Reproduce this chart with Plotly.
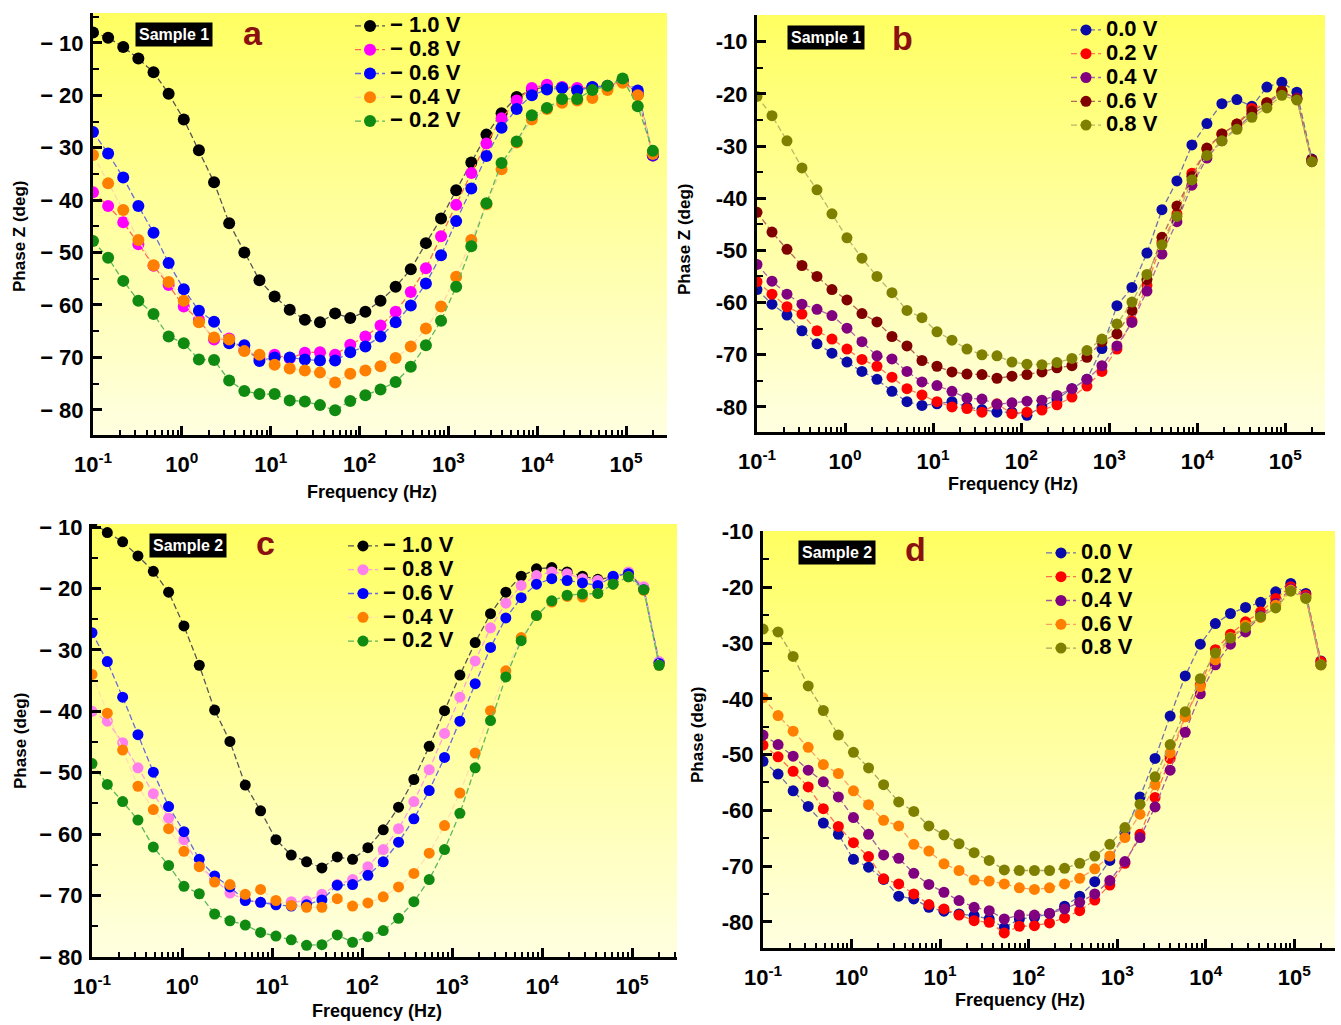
import plotly.graph_objects as go

FONT = "Liberation Sans, Arial, sans-serif"
W, H = 1341, 1025

# ---------------- data ----------------
freq = [0.1, 0.148, 0.219, 0.324, 0.480, 0.710, 1.051, 1.556, 2.303, 3.409, 5.047, 7.470,
        11.06, 16.37, 24.23, 35.86, 53.08, 78.57, 116.3, 172.1, 254.7, 377.1, 558.1, 826.1,
        1223, 1810, 2679, 3965, 5868, 8686, 12850, 19020, 28150, 41680, 61690, 91310,
        135100, 200000]

# panel a : Sample 1, negative potentials
a_m10 = [-8, -9, -10.8, -13, -15.6, -19.7, -24.6, -30.5, -36.6, -44.4, -50, -55.3, -58.4, -60.9,
         -62.8, -63.3, -61.6, -62.5, -61.3, -59.2, -56.5, -53.2, -48.2, -43.5, -38.1, -32.8,
         -27.5, -23.4, -20.3, -19, -18.3, -18.5, -18.8, -18.5, -18.3, -17.2, -19.8, -31.5]
a_m08 = [-38.5, -41.1, -44.2, -48.4, -52.5, -56.2, -60.3, -62.8, -66.6, -66.4, -68.7, -70.2,
         -69.5, -70.2, -69.1, -69, -69.5, -67.6, -66, -63.9, -61.3, -57.5, -53, -46.9, -40.9,
         -34.8, -29.2, -24.4, -21, -18.6, -18, -18.4, -18.6, -18.5, -18.3, -17.3, -19.6, -31.5]
a_m06 = [-27, -31.1, -35.7, -41.1, -46.2, -52, -57, -61.1, -63.2, -67.3, -67.7, -70.7, -70, -70,
         -70.4, -70.6, -70.6, -69, -67.9, -66, -63.3, -60.1, -55.9, -50.5, -44, -37.8, -31.6,
         -26.2, -22.6, -20, -18.9, -18.6, -19.1, -18.4, -18.2, -17.2, -19.1, -31.4]
a_m04 = [-31.4, -36.8, -41.9, -47.6, -52.4, -55.6, -59.2, -63.3, -66.2, -66.6, -68.8, -69.5,
         -71.4, -72.1, -72.5, -72.9, -74.8, -73.1, -72.5, -71.7, -70.1, -67.9, -64.5, -60.3,
         -54.6, -47.6, -40.8, -34.1, -29, -24.6, -22.6, -21.4, -21, -20.5, -19, -17.6, -20, -31.2]
a_m02 = [-47.8, -51, -55.4, -59.2, -61.7, -66, -67.3, -70.4, -70.5, -74.4, -76.4, -77, -77,
         -78.2, -78.4, -79.1, -80.1, -78.3, -77.2, -76.1, -74.7, -71.8, -67.7, -63, -56.5, -48.8,
         -40.6, -32.9, -28.8, -23.8, -22.4, -20.7, -20.7, -19, -18.2, -16.8, -22.1, -30.6]

# panel b : Sample 1, positive potentials
b_00 = [-57.5, -60.3, -62.4, -65.4, -67.9, -69.7, -71.4, -73.2, -74.7, -77, -79, -79.7, -79.4,
        -79, -80, -80.5, -81, -81, -81.6, -80, -78.5, -76.5, -74.7, -68.8, -60.6, -57.1, -50.5,
        -42.2, -36.7, -29.8, -25.7, -21.9, -21.1, -22.4, -18.7, -17.8, -19.7, -32.5]
b_02 = [-56, -58.4, -60.8, -62.2, -65.4, -67, -68.9, -70.9, -72.2, -74.3, -76.5, -77.7, -79,
        -80, -80.3, -81, -79.4, -81.3, -81, -80.6, -79.6, -78.1, -76, -73.2, -68.9, -63.5,
        -56.7, -48.4, -43, -35.2, -30.6, -27.7, -25.8, -22.8, -21.7, -19.5, -21, -32.7]
b_04 = [-52.7, -55.9, -58.4, -60.3, -61.3, -62.5, -64.9, -67.5, -70.2, -70.8, -73.2, -75.2,
        -75.9, -77, -78.3, -78.5, -79.5, -79.2, -78.9, -78.7, -77.8, -76.5, -74.7, -72.1, -68.3,
        -63.8, -57.8, -50.7, -44.5, -37.5, -32.3, -29, -26.5, -24, -22, -19.8, -20.8, -33]
b_06 = [-42.7, -46.5, -49.8, -52.9, -55, -57.5, -59.5, -62.1, -63.7, -66.5, -68.3, -71.1, -72.2,
        -73.3, -73.7, -73.8, -74.5, -74.1, -73.8, -73.3, -72.5, -72.1, -70.5, -67.5, -66, -61.5,
        -55.6, -47.5, -41.5, -35.8, -30.4, -27.7, -25.8, -23.3, -21.7, -19.5, -21, -32.7]
b_08 = [-20.5, -24.2, -29, -34.2, -38.4, -43, -47.6, -51.5, -55, -58.1, -61.5, -62.9, -65.6,
        -67.2, -68.9, -70, -70.2, -71.4, -71.8, -71.9, -71.5, -70.7, -69.2, -67, -64.1, -59.9,
        -54.6, -48.9, -43.5, -36.5, -31.8, -29, -26.8, -24.5, -22.7, -20.3, -21.2, -33]

# panel c : Sample 2, negative potentials
c_m10 = [-9.3, -10.9, -12.4, -14.7, -17.2, -20.6, -26.1, -32.5, -39.8, -44.9, -52, -56.2, -60.9,
         -63.4, -64.5, -65.5, -63.7, -64.1, -62.2, -59.3, -55.6, -51.1, -45.7, -39.9, -34.1,
         -28.8, -24.1, -20.6, -18, -16.8, -16.6, -17.3, -18, -18.5, -18.2, -17.4, -20, -32]
c_m08 = [-40, -41.6, -45.1, -49.2, -53.4, -57.4, -60.9, -65.1, -67.4, -69.6, -70.7, -71.1, -71.2,
         -71, -70.9, -69.8, -68.2, -67.4, -65.3, -62.5, -59.1, -54.7, -49.5, -43.6, -37.7, -31.8,
         -26.4, -22.4, -19.5, -17.9, -17.3, -17.6, -18.4, -18.7, -18.1, -17.3, -19.7, -31.9]
c_m06 = [-27.2, -31.9, -37.7, -43.8, -49.9, -55.5, -59.6, -64.1, -66.8, -68.6, -70.8, -71.1,
         -71.5, -71.7, -71.5, -70.7, -68.3, -68.2, -66.7, -64.5, -61.3, -57.5, -52.9, -47.5,
         -41.6, -35.5, -29.6, -24.8, -21.5, -19.3, -18.4, -18.7, -19.1, -19.5, -18, -17.6, -20.2, -32.2]
c_m04 = [-34, -40.3, -46.3, -52.2, -56, -59.1, -62.8, -65.3, -67.8, -68.2, -69.8, -69, -70.8,
         -71.6, -71.9, -71.9, -70.5, -71.7, -71.2, -70.2, -68.6, -66.4, -63.1, -58.6, -53.3,
         -46.8, -39.9, -33.4, -28, -24.4, -22.2, -21.3, -21.4, -20.8, -19.3, -18.1, -20.3, -32.5]
c_m02 = [-48.5, -51.9, -54.7, -57.7, -62.1, -65.1, -68.5, -69.7, -73, -74.1, -74.8, -76, -76.6,
         -77.2, -78.1, -78, -76.4, -77.6, -76.7, -75.7, -73.7, -71, -67.4, -62.5, -56.6, -49.2,
         -41.5, -34.4, -28.5, -24.4, -22, -21.1, -20.9, -20.8, -19.3, -18.1, -20.2, -32.5]

# panel d : Sample 2, positive potentials
d_00 = [-51.2, -53.5, -56.5, -59.3, -62.3, -64.3, -68.8, -70.2, -72.4, -75.4, -75.9, -77.4,
        -78.1, -78.6, -78.9, -79.5, -81.1, -79.5, -79.2, -78.5, -77.2, -75.4, -72.8, -69, -64,
        -57.6, -50.7, -43.1, -35.9, -30.2, -26.5, -24.7, -23.6, -22.7, -20.8, -19.3, -21.1, -33.2]
d_02 = [-48.3, -50.4, -53, -55.8, -59.7, -62.9, -65.8, -68.3, -72.3, -73.2, -75, -76.9, -77.7,
        -78.8, -79.8, -80.1, -82, -80.8, -80.7, -80.2, -79.3, -78, -76.1, -73.4, -69.5, -64.3,
        -57.7, -50.7, -43.2, -37.5, -31.2, -28.4, -26.2, -24.4, -22, -19.9, -21.4, -33.3]
d_04 = [-46.5, -48.2, -50.3, -52.8, -54.9, -57.6, -61.3, -64.3, -68, -68.6, -71.3, -73.3, -74.7,
        -76.2, -77.4, -78, -79.5, -78.8, -78.8, -78.5, -77.7, -76.5, -75, -72.6, -69.2, -64.9,
        -59.4, -52.8, -46, -39.1, -33.9, -30.2, -28, -25.1, -22.9, -20.3, -21.7, -33.9]
d_06 = [-39.8, -43, -45.8, -48.7, -51.8, -53.4, -56.5, -59, -61.8, -62.8, -66.1, -67.3, -69.6,
        -70.8, -72.5, -72.7, -73.2, -73.9, -74.2, -73.9, -73.2, -72.2, -70.5, -68.2, -64.9,
        -60.7, -55.4, -49.7, -43.2, -37.8, -33, -29, -26.8, -25.4, -23.2, -20.5, -21.9, -33.9]
d_08 = [-27.5, -28, -32.4, -37.7, -42.1, -46.5, -49.6, -52.4, -55.4, -58.5, -60.2, -62.8, -64.4,
        -66, -67.6, -69, -70.7, -70.8, -70.8, -70.8, -70.4, -69.5, -68.2, -66.1, -63.1, -58.9,
        -54, -48.2, -42.3, -36.4, -31.8, -29.1, -27.2, -25.3, -23.7, -20.7, -22, -33.9]

neg_labels = ["\u2212 1.0 V", "\u2212 0.8 V", "\u2212 0.6 V", "\u2212 0.4 V", "\u2212 0.2 V"]
pos_labels = ["0.0 V", "0.2 V", "0.4 V", "0.6 V", "0.8 V"]

x_tickvals = [0.1, 1, 10, 100, 1000, 10000, 100000]
x_ticktext = ["10<sup>-1</sup>", "10<sup>0</sup>", "10<sup>1</sup>", "10<sup>2</sup>",
              "10<sup>3</sup>", "10<sup>4</sup>", "10<sup>5</sup>"]
y_tickvals = [-10, -20, -30, -40, -50, -60, -70, -80]
y_text_spaced = ["\u2212 10", "\u2212 20", "\u2212 30", "\u2212 40", "\u2212 50", "\u2212 60",
                 "\u2212 70", "\u2212 80"]
y_text_plain = ["-10", "-20", "-30", "-40", "-50", "-60", "-70", "-80"]

# ---------------- styles ----------------
panels = [
    dict(name="a", series=[a_m10, a_m08, a_m06, a_m04, a_m02], labels=neg_labels,
         mcol=["#000000", "#ff00ff", "#0000ff", "#ff8000", "#108a10"],
         lcol=["#555555", "#ff6a50", "#6a6ae0", "#ffd8a8", "#5cb85c"],
         box=(93, 667, 13, 435), xr=[-1, 5.46], yr=[-84.8, -4.3], ytext=y_text_spaced,
         legend=(350, 9), sample="Sample 1", sxy=(174, 34), letter_xy=(253, 33),
         xt=(372, 492), yt=(20, 237), ytitle="Phase Z (deg)", msize=12),
    dict(name="b", series=[b_00, b_02, b_04, b_06, b_08], labels=pos_labels,
         mcol=["#0a0aa8", "#ff0000", "#800080", "#800000", "#808000"],
         lcol=["#7070a8", "#ff7a5a", "#a868a8", "#b06a5a", "#b8b86a"],
         box=(757, 1325, 15, 432), xr=[-1, 5.45], yr=[-84.8, -4.9], ytext=y_text_plain,
         legend=(1066, 13), sample="Sample 1", sxy=(826, 37), letter_xy=(903, 38),
         xt=(1013, 484), yt=(685, 240), ytitle="Phase Z (deg)", msize=11),
    dict(name="c", series=[c_m10, c_m08, c_m06, c_m04, c_m02], labels=neg_labels,
         mcol=["#000000", "#ff80ec", "#0000ff", "#ff8000", "#108a10"],
         lcol=["#555555", "#ffa0e0", "#6a6ae0", "#ffe0b0", "#5cb85c"],
         box=(92, 677, 524, 957), xr=[-1, 5.5], yr=[-80, -9.5], ytext=y_text_spaced,
         legend=(343, 529), sample="Sample 2", sxy=(188, 545), letter_xy=(265, 543),
         xt=(377, 1011), yt=(20, 741), ytitle="Phase (deg)", msize=11),
    dict(name="d", series=[d_00, d_02, d_04, d_06, d_08], labels=pos_labels,
         mcol=["#0a0aa8", "#ff0000", "#800080", "#ff8000", "#808000"],
         lcol=["#7070b0", "#ff7050", "#a060a0", "#ffa060", "#a8a860"],
         box=(763, 1335, 531, 948), xr=[-1, 5.46], yr=[-84.7, -9.9], ytext=y_text_plain,
         legend=(1041, 536), sample="Sample 2", sxy=(837, 552), letter_xy=(916, 549),
         xt=(1020, 1000), yt=(697, 735), ytitle="Phase (deg)", msize=11),
]

for p in panels:
    for s in p["series"]:
        assert len(s) == len(freq), (p["name"], len(s))

minor_x = [m * 10.0 ** d for d in range(-1, 6) for m in range(2, 10)]
minor_y = [-5, -15, -25, -35, -45, -55, -65, -75, -85]

fig = go.Figure()
shapes = []
annotations = []
layout = dict(width=W, height=H, autosize=False, margin=dict(l=0, r=0, t=0, b=0),
              paper_bgcolor="white", plot_bgcolor="white", showlegend=True,
              font=dict(family=FONT, color="black"))

def px(x):
    return x / W

def py(y):
    return 1 - y / H

top_c = (255, 255, 98)
bot_c = (255, 255, 224)
NB = 70

for i, p in enumerate(panels):
    n = "" if i == 0 else str(i + 1)
    xa, ya = "x" + n, "y" + n
    lg = "legend" + n
    x0, x1, y0, y1 = p["box"]
    layout["xaxis" + n] = dict(
        domain=[px(x0), px(x1)], anchor=ya, type="log", range=p["xr"], automargin=False,
        showline=True, linecolor="black", linewidth=3, showgrid=False, zeroline=False,
        ticks="inside", ticklen=9, tickwidth=2.5, tickcolor="black",
        tickvals=x_tickvals, ticktext=x_ticktext, ticklabelstandoff=8,
        tickfont=dict(family=FONT, size=22, color="black", weight="bold"),
        minor=dict(tickvals=minor_x, ticks="inside", ticklen=5, tickwidth=2, tickcolor="black"),
    )
    layout["yaxis" + n] = dict(
        domain=[py(y1), py(y0)], anchor=xa, range=p["yr"], automargin=False,
        showline=True, linecolor="black", linewidth=3, showgrid=False, zeroline=False,
        ticks="inside", ticklen=9, tickwidth=2.5, tickcolor="black",
        tickvals=y_tickvals, ticktext=p["ytext"], ticklabelstandoff=2,
        tickfont=dict(family=FONT, size=22, color="black", weight="bold"),
        minor=dict(tickvals=minor_y, ticks="inside", ticklen=6, tickwidth=2, tickcolor="black"),
    )
    lx, ly = p["legend"]
    layout[lg] = dict(x=px(lx), y=py(ly), xanchor="left", yanchor="top",
                      bgcolor="rgba(0,0,0,0)", borderwidth=0, tracegroupgap=0,
                      font=dict(family=FONT, size=16, color="black", weight="bold"))

    # yellow vertical gradient background
    for k in range(NB):
        t = k / (NB - 1)
        c = tuple(round(top_c[j] + (bot_c[j] - top_c[j]) * t) for j in range(3))
        shapes.append(dict(type="rect", xref=xa + " domain", yref=ya + " domain",
                           x0=0, x1=1, y0=1 - (k + 1) / NB - 0.003, y1=1 - k / NB,
                           fillcolor="rgb(%d,%d,%d)" % c, line=dict(width=0), layer="below"))

    for s, lab, mc, lc in zip(p["series"], p["labels"], p["mcol"], p["lcol"]):
        fig.add_trace(go.Scatter(
            x=freq, y=s, mode="lines+markers",
            name='<span style="font-size:22px">%s</span>' % lab,
            xaxis=xa, yaxis=ya, legend=lg,
            line=dict(color=lc, width=1.3, dash="6px,3px"),
            marker=dict(color=mc, size=p["msize"], line=dict(width=0)),
        ))

    # sample label, panel letter, axis titles
    sx, sy = p["sxy"]
    annotations.append(dict(x=px(sx), y=py(sy), xref="paper", yref="paper", showarrow=False,
                            text=p["sample"], bgcolor="black", borderpad=3,
                            font=dict(family=FONT, size=16, color="white", weight="bold"),
                            xanchor="center", yanchor="middle"))
    lxx, lyy = p["letter_xy"]
    annotations.append(dict(x=px(lxx), y=py(lyy), xref="paper", yref="paper", showarrow=False,
                            text=p["name"], font=dict(family=FONT, size=34, color="#8b1010",
                                                      weight="bold"),
                            xanchor="center", yanchor="middle"))
    tx, ty = p["xt"]
    annotations.append(dict(x=px(tx), y=py(ty), xref="paper", yref="paper", showarrow=False,
                            text="Frequency (Hz)",
                            font=dict(family=FONT, size=18, color="black", weight="bold"),
                            xanchor="center", yanchor="middle"))
    vx, vy = p["yt"]
    annotations.append(dict(x=px(vx), y=py(vy), xref="paper", yref="paper", showarrow=False,
                            text=p["ytitle"], textangle=-90,
                            font=dict(family=FONT, size=17, color="black", weight="bold"),
                            xanchor="center", yanchor="middle"))

layout["shapes"] = shapes
layout["annotations"] = annotations
fig.update_layout(**layout)
fig.write_html("out.html")
